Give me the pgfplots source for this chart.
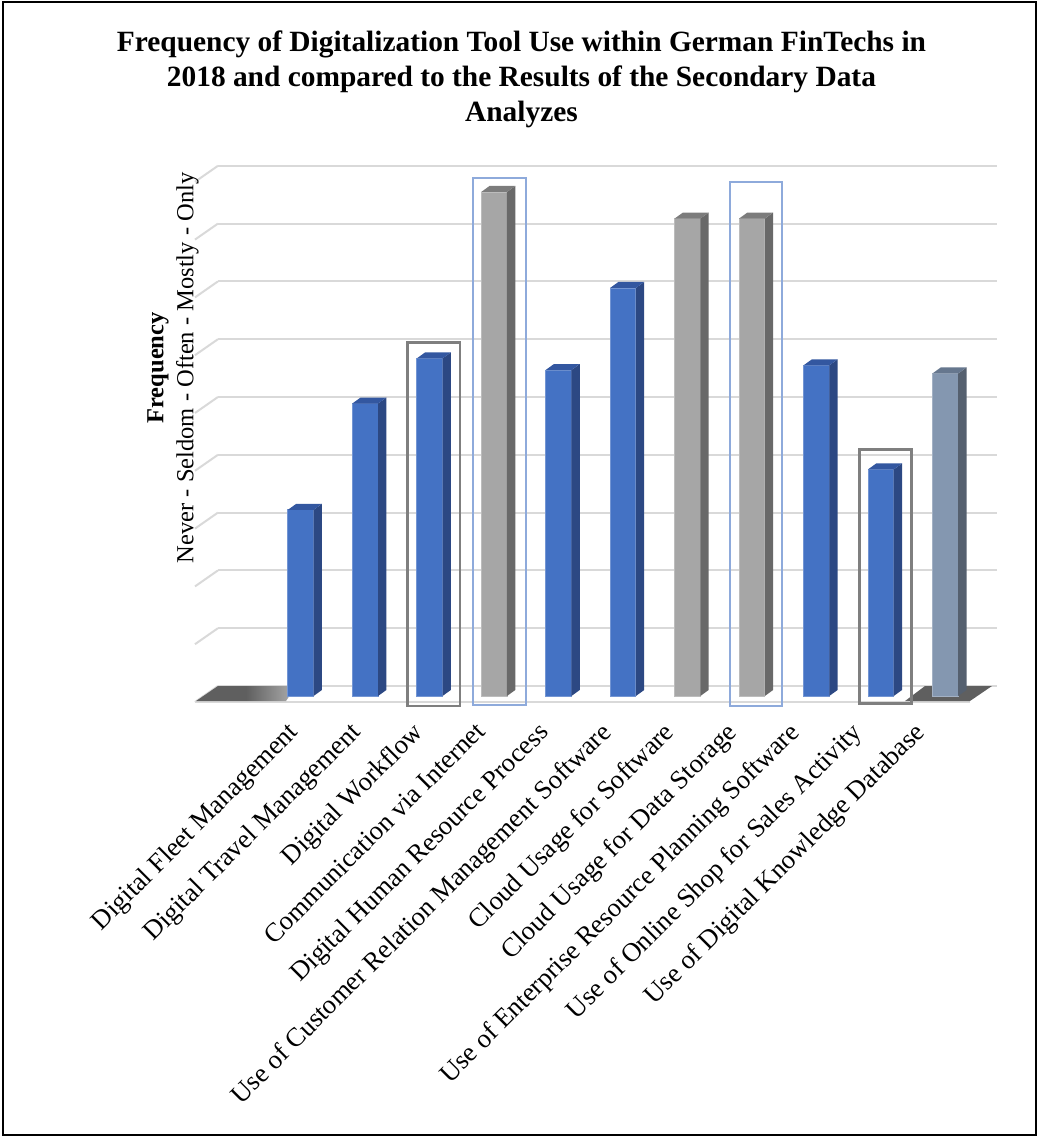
\documentclass[border=0pt]{standalone}
\usepackage{pgfplots}
\pgfplotsset{compat=1.18}
\usepackage{pgfplotstable}
\usepackage{fontspec}
\setmainfont{Liberation Serif}

% bar colours: front, side and top faces
\definecolor{bluefront}{HTML}{4472C4}
\definecolor{blueside}{HTML}{2C4883}
\definecolor{bluetop}{HTML}{3357A0}
\definecolor{greyfront}{HTML}{A6A6A6}
\definecolor{greyside}{HTML}{696969}
\definecolor{greytop}{HTML}{7C7C7C}
\definecolor{slatefront}{HTML}{8497B0}
\definecolor{slateside}{HTML}{55606F}
\definecolor{slatetop}{HTML}{66778E}
\definecolor{gridc}{HTML}{D9D9D9}
\definecolor{floordark}{HTML}{5F5F5F}
\definecolor{boxgray}{HTML}{7F7F7F}
\definecolor{boxblue}{HTML}{8EAADB}

\pgfdeclarehorizontalshading{floorL}{100bp}{color(0bp)=(floordark); color(50bp)=(floordark); color(100bp)=(white)}
\pgfdeclarehorizontalshading{floorR}{100bp}{color(0bp)=(white); color(28bp)=(floordark); color(100bp)=(floordark)}

% mean frequency per tool (0.5 per grid step)
\pgfplotstableread{
idx value col
0  1.61 blue
1  2.53 blue
2  2.92 blue
3  4.36 grey
4  2.82 blue
5  3.53 blue
6  4.13 grey
7  4.13 grey
8  2.86 blue
9  1.96 blue
10 2.79 slate
}\freqtable

\begin{document}
\begin{tikzpicture}
\begin{axis}[
  x=32.23pt, y=57.8pt,
  xmin=-1.284, xmax=10.802,
  ymin=-0.2076, ymax=4.637,
  clip=false,
  axis line style={draw=none},
  major tick length=0pt,
  tick style={draw=none},
  ytick={0.0865,0.5865,1.0865,1.5865,2.0865,2.5865,3.0865,3.5865,4.0865,4.5865},
  yticklabels={},
  ymajorgrids,
  grid style={gridc, line width=1pt},
  xtick={-0.228,0.744,1.716,2.688,3.660,4.632,5.605,6.577,7.549,8.521,9.493},
  xticklabels={{Digital Fleet Management},{Digital Travel Management},{Digital Workflow},{Communication via Internet},{Digital Human Resource Process},{Use of Customer Relation Management Software},{Cloud Usage for Software},{Cloud Usage for Data Storage},{Use of Enterprise Resource Planning Software},{Use of Online Shop for Sales Activity},{Use of Digital Knowledge Database}},
  xticklabel style={rotate=45, anchor=north east, inner sep=0pt, font=\fontsize{13.3}{16}\selectfont},
  ylabel={\textbf{Frequency}\\Never - Seldom - Often - Mostly - Only},
  ylabel style={at={(axis description cs:-0.0578,0.6288)}, anchor=center, align=center, font=\fontsize{12.25}{15}\selectfont},
  title={Frequency of Digitalization Tool Use within German FinTechs in\\2018 and compared to the Results of the Secondary Data\\Analyzes},
  title style={at={(axis description cs:0.3896,1.1231)}, anchor=center, align=center, font=\fontsize{14.7}{17.4}\selectfont\bfseries},
]
% side wall of the 3-D frame
\pgfplotsinvokeforeach{0,...,9}{
  \draw[gridc, line width=1pt] (axis cs:-1.284,{0.0865+0.5*#1}) -- (axis cs:-1.640,{0.0865+0.5*#1-0.1384});
}
% front edge of the floor
\addplot[gridc, line width=1pt] coordinates {(-1.640,-0.0519) (10.383,-0.0519)};
% floor shadows
\addplot[draw=none, shade, shading=floorL] coordinates {(-1.624,-0.0433) (-1.284,0.0865) (-0.073,0.0865) (-0.228,-0.0433)} -- cycle;
\addplot[draw=none, shade, shading=floorR] coordinates {(9.375,-0.0433) (9.685,0.0865) (10.724,0.0865) (10.383,-0.0433)} -- cycle;

% 3-D columns: front, side and top faces
\pgfplotsinvokeforeach{0,...,10}{
  \pgfplotstablegetelem{#1}{value}\of\freqtable \let\val\pgfplotsretval
  \pgfplotstablegetelem{#1}{col}\of\freqtable \let\clr\pgfplotsretval
  \pgfmathsetmacro\xl{#1-0.2}
  \pgfmathsetmacro\xr{#1+0.2}
  \pgfmathsetmacro\xd{#1+0.329}
  \pgfmathsetmacro\xld{#1-0.071}
  \pgfmathsetmacro\vt{\val+0.052}
  \edef\barcmd{%
    \noexpand\addplot[draw=\clr front!75!white, line width=0.4pt, fill=\clr front] coordinates {(\xl,0) (\xr,0) (\xr,\val) (\xl,\val)} -- cycle;
    \noexpand\addplot[draw=none, fill=\clr side] coordinates {(\xr,0) (\xd,0.052) (\xd,\vt) (\xr,\val)} -- cycle;
    \noexpand\addplot[draw=none, fill=\clr top] coordinates {(\xl,\val) (\xr,\val) (\xd,\vt) (\xld,\vt)} -- cycle;
  }\barcmd
}

% highlight boxes
\addplot[draw=boxgray, line width=1.25pt] coordinates {(1.660,-0.0865) (2.471,-0.0865) (2.471,3.057) (1.660,3.057)} -- cycle;
\addplot[draw=boxblue, line width=1pt] coordinates {(2.678,-0.078) (3.495,-0.078) (3.495,4.484) (2.678,4.484)} -- cycle;
\addplot[draw=boxblue, line width=1pt] coordinates {(6.660,-0.0865) (7.462,-0.0865) (7.462,4.444) (6.660,4.444)} -- cycle;
\addplot[draw=boxgray, line width=1.25pt] coordinates {(8.666,-0.063) (9.479,-0.063) (9.479,2.134) (8.666,2.134)} -- cycle;

% outer frame and page extent
\draw[black, line width=0.75pt] (axis cs:-4.6184,-3.7976) rectangle (axis cs:11.4068,6.0035);
\path (axis cs:-4.6650,-3.8235) rectangle (axis cs:11.5,6.0208);
\end{axis}
\end{tikzpicture}
\end{document}
